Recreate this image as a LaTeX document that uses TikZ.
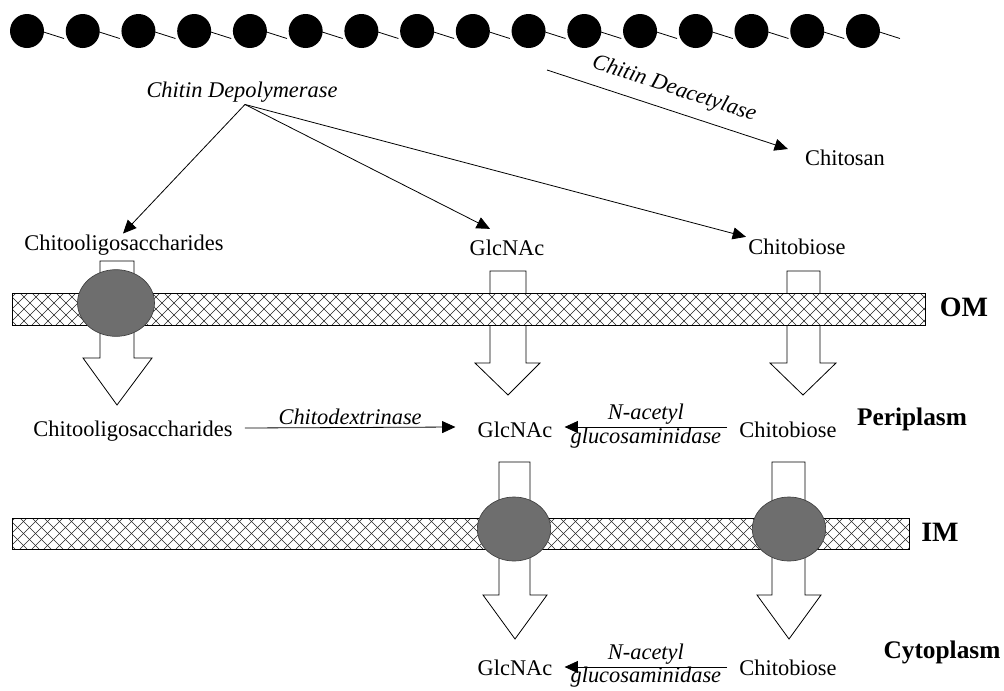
\documentclass[tikz,border=0pt]{standalone}
\usepackage{fontspec}
\setmainfont{Liberation Serif}
\usetikzlibrary{arrows.meta,calc,shapes.geometric}
\begin{document}
\begin{tikzpicture}[x=0.75pt,y=-0.75pt,
  txt/.style={inner sep=0pt,font=\fontsize{16.8}{19}\selectfont},
  enz/.style={inner sep=0pt,font=\fontsize{16.8}{19}\selectfont\itshape},
  region/.style={inner sep=0pt,font=\fontsize{19}{22}\selectfont\bfseries},
  memlab/.style={inner sep=0pt,font=\fontsize{21}{24}\selectfont\bfseries},
  arr/.style={line width=0.6pt,-{Triangle[length=10pt,width=9pt]}},
  bead/.style={circle,fill=black,minimum size=25.5pt,inner sep=0pt},
  blockarrow/.style={draw=black,fill=white,line width=0.6pt,line join=miter},
  porin/.style={ellipse,draw=black!75,fill=black!57,line width=0.5pt,inner sep=0pt},
  hatchline/.style={line width=0.4pt,black!85}
]
\useasboundingbox (0,0) rectangle (1004,690);

% chitin chain
\foreach \k in {0,...,15}{
  \node[bead] (c\k) at ({27+55.73*\k},31) {};
  \draw[line width=0.6pt] ($(c\k.center)+(15,0.5)$) -- ++(22,7);
}

% text nodes
\node[enz] (dep) at (242,92) {Chitin Depolymerase};
\node[txt] (chitosan) at (845,158) {Chitosan};
\node[txt] (co1) at (124,245) {Chitooligosaccharides};
\node[txt] (glc1) at (507,248) {GlcNAc};
\node[txt] (cb1) at (797,247) {Chitobiose};
\node[txt] (co2) at (133,431) {Chitooligosaccharides};
\node[txt] (glc2) at (515,430) {GlcNAc};
\node[txt] (cb2) at (788,430) {Chitobiose};
\node[txt] (glc3) at (515,668) {GlcNAc};
\node[txt] (cb3) at (788,668) {Chitobiose};
\node[memlab] (om) at (964,307) {OM};
\node[memlab] (im) at (940,532) {IM};
\node[region] (peri) at (912,419) {Periplasm};
\node[region] (cyto) at (942,652) {Cytoplasm};

% depolymerase arrows
\coordinate (depsrc) at ($(dep.south)+(3,2)$);
\draw[arr] (depsrc) -- ($(co1.north)+(-1,-1)$);
\draw[arr] (depsrc) -- ($(glc1.north)+(-17,-11)$);
\draw[arr] (depsrc) -- ($(cb1.north)+(-51,-2)$);

% deacetylase
\coordinate (deacsrc) at (547,70);
\draw[arr] (deacsrc) -- ($(chitosan.west)+(-17,-9)$)
  node[enz,midway,sloped,above=8pt] (deaclab) {Chitin Deacetylase};

% block arrows (outer membrane)
\draw[blockarrow] (100,261) -- (134,261) -- (134,358) -- (152,358) -- (117,405) -- (83,358) -- (100,358) -- cycle;
\draw[blockarrow] (490,271) -- (526,271) -- (526,363) -- (540,363) -- (508,395) -- (475,363) -- (490,363) -- cycle;
\draw[blockarrow] (787,271) -- (820,271) -- (820,363) -- (836,363) -- (803,395) -- (770,363) -- (787,363) -- cycle;
% block arrows (inner membrane)
\draw[blockarrow] (499,462) -- (530,462) -- (530,595) -- (547,595) -- (515,639) -- (483,595) -- (499,595) -- cycle;
\draw[blockarrow] (772,462) -- (805,462) -- (805,595) -- (821,595) -- (789,639) -- (757,595) -- (772,595) -- cycle;

% outer membrane
\begin{scope}
  \clip (12,293) rectangle (925,325);
  \fill[white] (12,293) rectangle (925,325);
  \foreach \i in {-40,-28,...,940}{
    \draw[hatchline] (\i,293) -- ++(32,32);
    \draw[hatchline] (\i,325) -- ++(32,-32);
  }
\end{scope}
\draw[line width=0.6pt] (12,293) rectangle (925,325);

% inner membrane
\begin{scope}
  \clip (12,518) rectangle (909,549);
  \fill[white] (12,518) rectangle (909,549);
  \foreach \i in {-40,-28,...,930}{
    \draw[hatchline] (\i,518) -- ++(31,31);
    \draw[hatchline] (\i,549) -- ++(31,-31);
  }
\end{scope}
\draw[line width=0.6pt] (12,518) rectangle (909,549);

% porins
\node[porin,minimum width=57.75pt,minimum height=50pt] (p1) at (116,303) {};
\node[porin,minimum width=55pt,minimum height=48pt] (p2) at (514,529) {};
\node[porin,minimum width=55pt,minimum height=48pt] (p3) at (789,529) {};

% periplasm reactions
\draw[arr] ($(co2.east)+(12,-3)$) -- ($(glc2.west)+(-22,-3)$)
  node[enz,midway,above=2pt] (cdx) {Chitodextrinase};
\draw[arr] ($(cb2.west)+(-12,-3)$) -- ($(glc2.east)+(12,-3)$)
  node[enz,midway,above=2pt] (na1) {N-acetyl}
  node[enz,midway,below=0.5pt] (gl1) {glucosaminidase};

% cytoplasm reaction
\draw[arr] ($(cb3.west)+(-12,-1)$) -- ($(glc3.east)+(12,-1)$)
  node[enz,midway,above=2pt] (na2) {N-acetyl}
  node[enz,midway,below=0pt] (gl2) {glucosaminidase};
\end{tikzpicture}
\end{document}
